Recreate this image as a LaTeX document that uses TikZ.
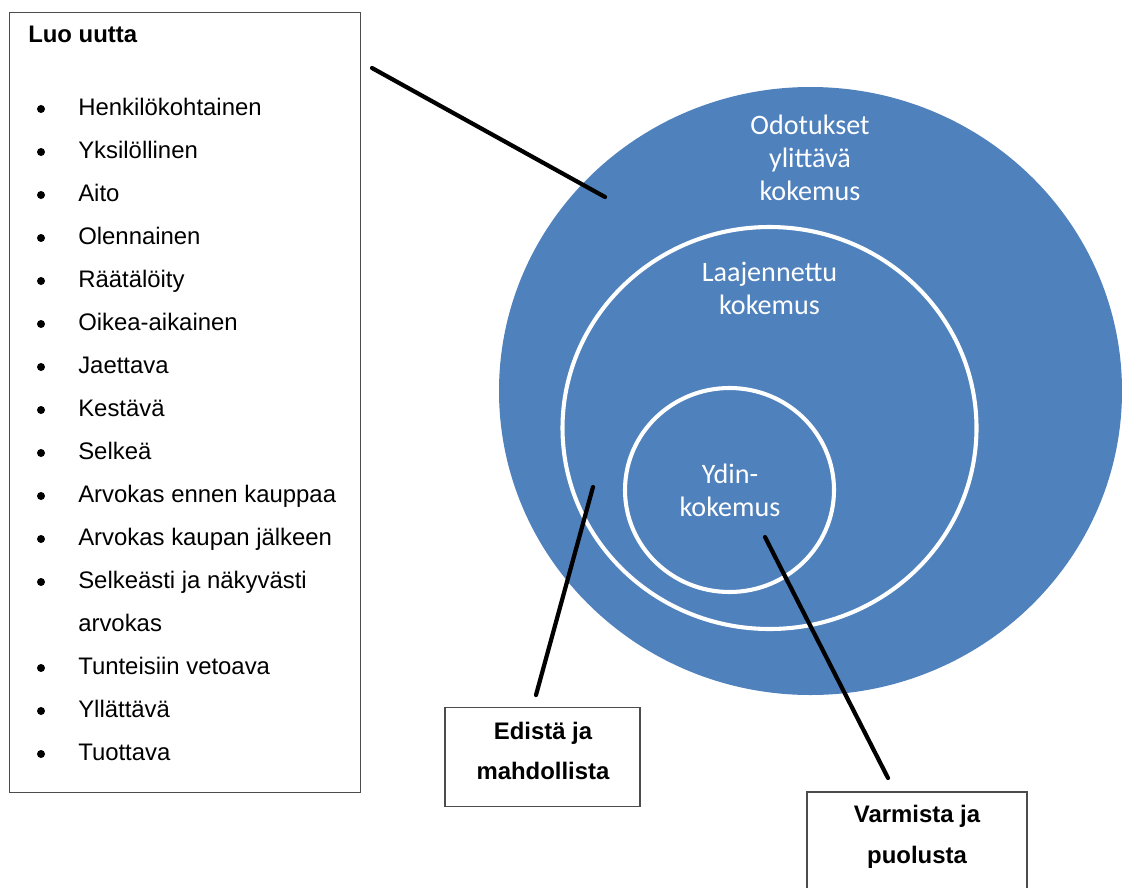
\documentclass[tikz,border=0pt]{standalone}
\usepackage{fontspec}
\setmainfont{Liberation Sans}
\newfontfamily\carlito{Carlito}
\usepackage{xcolor}
\usepackage{tikz}
\usetikzlibrary{positioning}
\definecolor{ringblue}{HTML}{4F81BD}

\begin{document}
\begin{tikzpicture}[x=0.025cm,y=-0.025cm,
  box/.style={draw=black!70,line width=0.9pt,fill=white,inner sep=0pt},
  entry/.style={anchor=base west,inner sep=0pt,font=\fontsize{17}{20}\selectfont},
  dot/.style={circle,fill=black,inner sep=0pt,minimum size=0.2cm},
  boxhead/.style={inner sep=0pt,align=center,font=\bfseries\fontsize{17}{29}\selectfont},
  ring/.style={draw=white,line width=2.9pt},
  ringtext/.style={text=white,align=center,font=\carlito\fontsize{20}{23.4}\selectfont},
  pointer/.style={line width=3pt,line cap=round}]
\clip (0,0) rectangle (1122,887);
\fill[white] (0,0) rectangle (1122,887);

% nested experience circles
\fill[ringblue] (810.5,391) ellipse [x radius=311.5,y radius=304];
\draw[ring] (769.5,428) ellipse [x radius=207,y radius=201];
\draw[ring] (729.5,490) ellipse [x radius=104.5,y radius=102];
\node[ringtext] (outer) at (810,157.5) {Odotukset\\ylittävä\\kokemus};
\node[ringtext] (middle) at (769.5,288) {Laajennettu\\kokemus};
\node[ringtext] (core) at (730,490) {Ydin-\\kokemus};

% list box
\node[box,minimum width=8.775cm,minimum height=19.5cm] (list) at (185,402.5) {};
\node[entry,font=\bfseries\fontsize{17}{20}\selectfont] (head) at (28,43) {Luo uutta};
\foreach \txt [count=\k from 0] in {Henkilökohtainen,Yksilöllinen,Aito,Olennainen,Räätälöity,Oikea-aikainen,Jaettava,Kestävä,Selkeä,Arvokas ennen kauppaa,Arvokas kaupan jälkeen,Selkeästi ja näkyvästi,arvokas,Tunteisiin vetoava,Yllättävä,Tuottava}
  \node[entry] (item\k) at (78,115+43*\k) {\txt};
\foreach \k in {0,...,11,13,14,15}
  \node[dot] (dot\k) at (41,109+43*\k) {};

% small boxes
\node[box,minimum width=4.875cm,minimum height=2.485cm] (edi) at (542.5,757) {};
\node[boxhead] (editext) at (543,751) {Edistä ja\\mahdollista};
\node[box,minimum width=5.5cm,minimum height=4.2cm] (var) at (917,876) {};
\node[boxhead] (vartext) at (917,837) {Varmista ja\\puolusta};

% pointers
\coordinate (luo-end) at (372,68);
\coordinate (outer-end) at (605,197);
\coordinate (edi-end) at (536,695);
\coordinate (middle-end) at (593,487);
\coordinate (var-end) at (888,778);
\coordinate (core-end) at (765,537);
\draw[pointer] (luo-end) -- (outer-end);
\draw[pointer] (edi-end) -- (middle-end);
\draw[pointer] (var-end) -- (core-end);
\end{tikzpicture}
\end{document}
